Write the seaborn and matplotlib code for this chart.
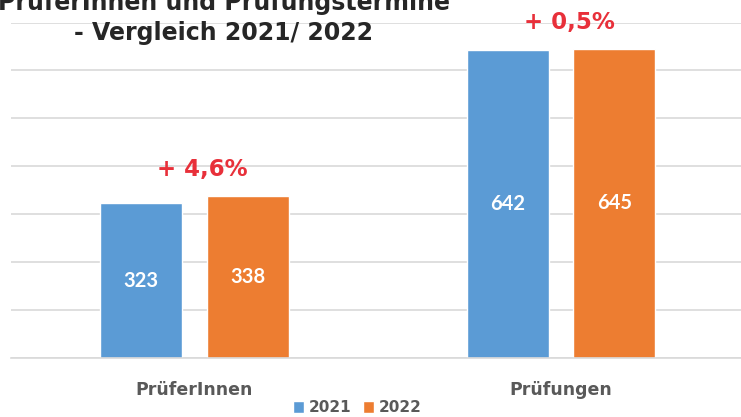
import matplotlib
matplotlib.use("Agg")
import matplotlib.pyplot as plt
import seaborn as sns
import pandas as pd
from matplotlib.patches import Patch

categories = ["PrüferInnen", "Prüfungen"]
years = ["2021", "2022"]
values_2021 = [323, 642]
values_2022 = [338, 645]
changes = ["+ 4,6%", "+ 0,5%"]
title = "PrüferInnen und Prüfungstermine\n- Vergleich 2021/ 2022"

colors = {"2021": "#5B9BD5", "2022": "#ED7D31"}

df = pd.DataFrame({
    "Kategorie": categories * 2,
    "Jahr": [years[0]] * len(categories) + [years[1]] * len(categories),
    "Wert": values_2021 + values_2022,
})

sns.set_style("white")
plt.rcParams["font.family"] = ["DejaVu Sans"]

fig = plt.figure(figsize=(7.41, 4.17), dpi=100)
ax = fig.add_axes([0.0148, 0.1415, 0.99, 0.8045])

sns.barplot(data=df, x="Kategorie", y="Wert", hue="Jahr", palette=colors,
            width=0.58, gap=0.23, ax=ax, legend=False, saturation=1)

ax.set_ylim(0, 700)
ax.set_yticks(range(0, 701, 100))
ax.yaxis.grid(True, color="#D9D9D9", linewidth=1.2)
ax.set_axisbelow(True)
ax.tick_params(axis="y", left=False, labelleft=False)
ax.tick_params(axis="x", bottom=False, labelsize=12.5, labelcolor="#595959", pad=13)
for lbl in ax.get_xticklabels():
    lbl.set_fontweight("bold")
ax.set_xlabel("")
ax.set_ylabel("")
for s in ["top", "left", "right"]:
    ax.spines[s].set_visible(False)
ax.spines["bottom"].set_color("#D9D9D9")
ax.spines["bottom"].set_linewidth(1.2)

for cont in ax.containers:
    ax.bar_label(cont, label_type="center", color="white", fontsize=14.5,
                 fontweight="bold", fontfamily="Lato")

for i, txt in enumerate(changes):
    top = max(values_2021[i], values_2022[i])
    ax.annotate(txt, xy=(i, top), xytext=(6, 19), textcoords="offset points",
                ha="center", va="center", color="#E8303A", fontsize=16.5,
                fontweight="bold", annotation_clip=False)

fig.text(0.302, 0.957, title, ha="center", va="center", fontsize=17,
         fontweight="bold", color="#262626", linespacing=1.3)

handles = [Patch(facecolor=colors[y], label=y) for y in years]
fig.legend(handles=handles, loc="center", bbox_to_anchor=(0.482, 0.022),
           ncol=2, frameon=False, handlelength=0.7, handleheight=0.9,
           handletextpad=0.3, columnspacing=0.8,
           prop={"size": 11, "weight": "bold"}, labelcolor="#595959")

fig.savefig("out.png", dpi=100)
